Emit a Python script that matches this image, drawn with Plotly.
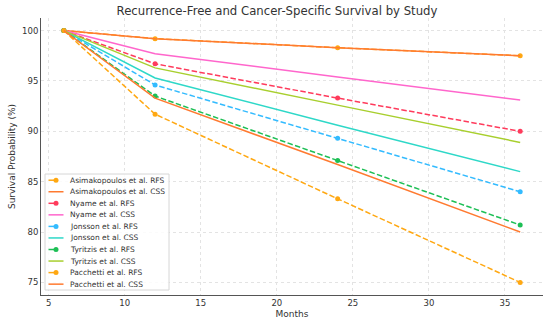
import plotly.graph_objects as go

# ---------------- data ----------------
months = [6, 12, 24, 36]

asimakopoulos_rfs = [100, 99.2, 98.3, 97.5]
asimakopoulos_css = [100, 99.2, 98.3, 97.5]
nyame_rfs = [100, 96.7, 93.3, 90.0]
nyame_css = [100, 97.7, 95.4, 93.1]
jonsson_rfs = [100, 94.6, 89.3, 84.0]
jonsson_css = [100, 95.3, 90.6, 86.0]
tyritzis_rfs = [100, 93.5, 87.1, 80.7]
tyritzis_css = [100, 96.3, 92.6, 88.9]
pacchetti_rfs = [100, 91.7, 83.3, 75.0]
pacchetti_css = [100, 93.3, 86.7, 80.0]

series_names = [
    "Asimakopoulos et al. RFS", "Asimakopoulos et al. CSS",
    "Nyame et al. RFS", "Nyame et al. CSS",
    "Jonsson et al. RFS", "Jonsson et al. CSS",
    "Tyritzis et al. RFS", "Tyritzis et al. CSS",
    "Pacchetti et al. RFS", "Pacchetti et al. CSS",
]
series_values = [
    asimakopoulos_rfs, asimakopoulos_css,
    nyame_rfs, nyame_css,
    jonsson_rfs, jonsson_css,
    tyritzis_rfs, tyritzis_css,
    pacchetti_rfs, pacchetti_css,
]
x_ticks = [5, 10, 15, 20, 25, 30, 35]
y_ticks = [75, 80, 85, 90, 95, 100]

# ---------------- style ----------------
colors = [
    "#FFA812", "#FF7A30",
    "#FF3B5C", "#FF66CC",
    "#33BBFF", "#2ED8C8",
    "#1DBF55", "#A8CF2E",
    "#FFA812", "#FF7A30",
]
DASH = "5.5px,2.4px"
FONT = "DejaVu Sans"
TXT = "#333333"

W, H = 550, 323
L, R, T, B = 41, 543, 18, 295  # plot area in px

fig = go.Figure()
for name, vals, col in zip(series_names, series_values, colors):
    is_rfs = name.endswith("RFS")
    fig.add_trace(go.Scatter(
        x=months, y=vals, name=name, showlegend=False,
        mode="lines+markers" if is_rfs else "lines",
        line=dict(color=col, width=1.5, dash=DASH if is_rfs else "solid"),
        marker=dict(size=5, color=col),
    ))

# ---------------- custom legend (matplotlib-like compact) ----------------
def px(xp):
    return (xp - L) / (R - L)

def py(yp):
    return (B - yp) / (B - T)

shapes = []
annotations = []
lx0, lx1, ly0, ly1 = 45, 169, 174, 290
shapes.append(dict(type="rect", xref="paper", yref="paper",
                   x0=px(lx0), x1=px(lx1), y0=py(ly1), y1=py(ly0),
                   fillcolor="rgba(255,255,255,0.85)",
                   line=dict(color="#d6d6d6", width=1), layer="above"))
row0, row_gap = 180.2, 11.55
for i, (name, col) in enumerate(zip(series_names, colors)):
    yc = row0 + i * row_gap
    is_rfs = name.endswith("RFS")
    shapes.append(dict(type="line", xref="paper", yref="paper",
                       x0=px(48.5), x1=px(63.5), y0=py(yc), y1=py(yc),
                       line=dict(color=col, width=1.5, dash="dash" if is_rfs else "solid"),
                       layer="above"))
    if is_rfs:
        r = 2.5
        shapes.append(dict(type="circle", xref="paper", yref="paper",
                           x0=px(56 - r), x1=px(56 + r), y0=py(yc + r), y1=py(yc - r),
                           fillcolor=col, line=dict(color=col, width=0), layer="above"))
    annotations.append(dict(text=name, xref="paper", yref="paper",
                            x=px(67.5), y=py(yc), xanchor="left", yanchor="middle",
                            showarrow=False, font=dict(family=FONT, size=7.5, color=TXT)))

fig.update_layout(
    width=W, height=H,
    margin=dict(l=L, r=W - R, t=T, b=H - B, pad=0, autoexpand=False),
    paper_bgcolor="white", plot_bgcolor="white",
    font=dict(family=FONT, color=TXT),
    title=dict(text="Recurrence-Free and Cancer-Specific Survival by Study",
               x=277 / W, xanchor="center", xref="container",
               y=1 - 10.5 / H, yanchor="middle", yref="container",
               automargin=False,
               font=dict(family=FONT, size=11.7, color=TXT)),
    shapes=shapes, annotations=annotations,
    showlegend=False,
)
fig.update_xaxes(
    range=[4.5, 37.5], tickvals=x_ticks, ticks="", automargin=False,
    showline=True, linecolor="#555555", linewidth=1,
    showgrid=True, gridcolor="#e3e3e3", griddash="dot", gridwidth=1,
    zeroline=False, tickfont=dict(size=8.5, color=TXT),
    title=dict(text="Months", font=dict(size=9, color=TXT), standoff=3),
)
fig.update_yaxes(
    range=[73.75, 101.25], tickvals=y_ticks, ticks="", automargin=False,
    showline=True, linecolor="#555555", linewidth=1,
    showgrid=True, gridcolor="#e3e3e3", griddash="dot", gridwidth=1,
    zeroline=False, tickfont=dict(size=8.5, color=TXT),
    title=dict(text="Survival Probability (%)", font=dict(size=9, color=TXT), standoff=4),
)

fig.write_html(
    "out.html",
    config={"displayModeBar": False},
    post_script="document.body.style.margin='0';document.body.style.padding='0';",
)
